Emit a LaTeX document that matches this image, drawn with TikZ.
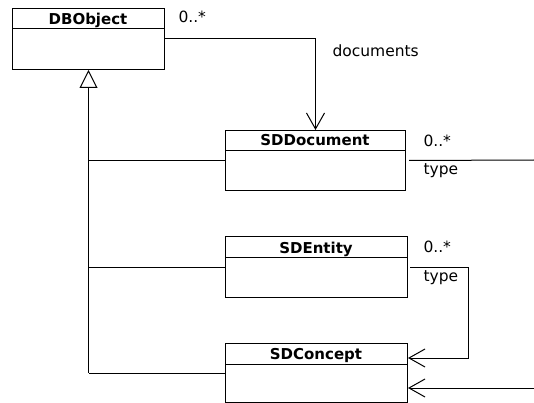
\documentclass[tikz,border=0pt]{standalone}
\usepackage{fontspec}
\setmainfont{DejaVu Sans}
\usetikzlibrary{arrows.meta}
\begin{document}
\begin{tikzpicture}[x=1pt,y=-1pt,
  line width=1pt,
  classbox/.style={draw, fill=white, anchor=north west, inner sep=0pt},
  cname/.style={font=\fontsize{15}{17}\selectfont\bfseries, inner sep=0pt, anchor=base},
  lbl/.style={font=\fontsize{15.5}{17}\selectfont, inner sep=0pt, anchor=base west},
  assoc/.style={-{Straight Barb[length=16pt,width=18pt,line width=1pt]}},
  gen/.style={-{Triangle[open,fill=white,length=18pt,width=18pt,line width=1pt]}}]
\useasboundingbox (0,0) rectangle (534,403);
% classes
\node[classbox, minimum width=152pt, minimum height=61pt] (dbo) at (12,8) {};
\draw (12,29) -- (164,29);
\node[cname] (dbon) at (88,25) {DBObject};
\node[classbox, minimum width=180pt, minimum height=60pt] (sdd) at (225,130) {};
\draw (225,151) -- (405,151);
\node[cname] (sddn) at (315,146) {SDDocument};
\node[classbox, minimum width=182pt, minimum height=61pt] (sde) at (225,236) {};
\draw (225,257) -- (407,257);
\node[cname] (sden) at (316,253) {SDEntity};
\node[classbox, minimum width=182pt, minimum height=59pt] (sdc) at (225,343) {};
\draw (225,364) -- (407,364);
\node[cname] (sdcn) at (316,359) {SDConcept};
% generalization
\draw (sdd.west) -- (sdd.west -| dbo.south);
\draw (sde.west) -- (sde.west -| dbo.south);
\draw[gen] (sdc.west -| dbo.south) -- (dbo.south);
\draw (sdc.west) -- (sdc.west -| dbo.south);
% associations
\draw[assoc] (dbo.east) -| (sdd.north);
\node[lbl] (l1) at (178,23) {0..*};
\node[lbl] (l2) at (332,56.5) {documents};
\coordinate (e1) at (534,160);
\draw ([xshift=3pt]sdd.east) -- (e1);
\node[lbl] (l3) at (423,147) {0..*};
\node[lbl] (l4) at (423,175) {type};
\coordinate (k1) at (468,358);
\draw[assoc] ([xshift=2pt]sde.east) -- (sde.east -| k1) -- (k1) -- (k1 -| sdc.east);
\node[lbl] (l5) at (423,252) {0..*};
\node[lbl] (l6) at (423,281) {type};
\coordinate (e2) at (534,388);
\draw[assoc] (e2) -- (e2 -| sdc.east);
\end{tikzpicture}
\end{document}
